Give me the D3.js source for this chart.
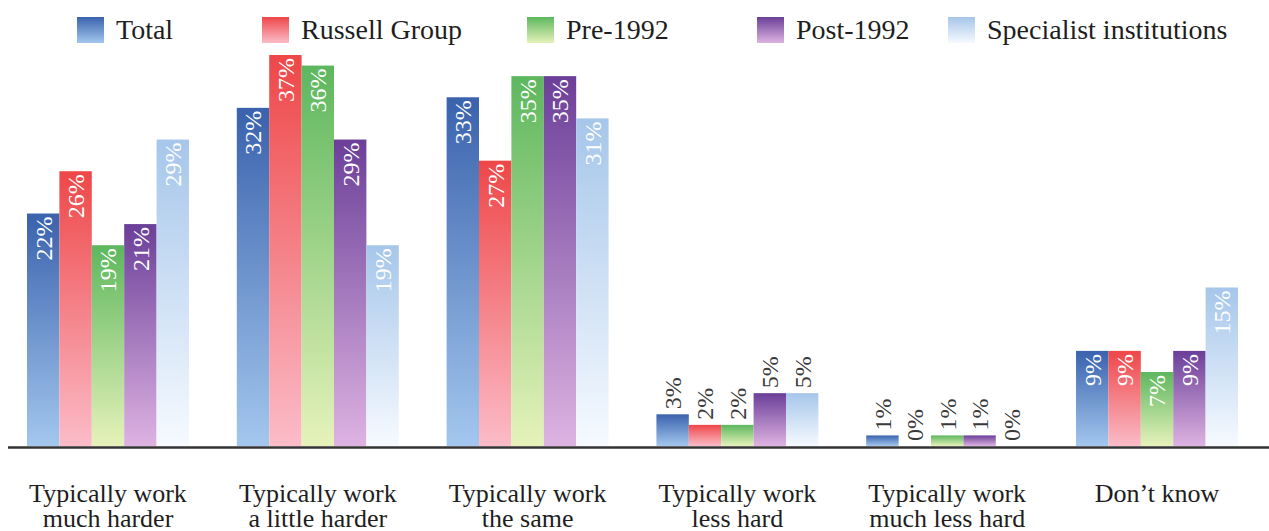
<!DOCTYPE html>
<html>
<head>
<meta charset="utf-8">
<script src="https://cdn.jsdelivr.net/npm/d3@7"></script>
<style>
  html, body { margin: 0; padding: 0; background: #fff; }
  svg { display: block; }
</style>
</head>
<body>
<svg id="chart" width="1269" height="531"></svg>
<script>
// Survey answers: how hard staff typically work, by institution type (% of respondents)
const categories = [
  ["Typically work", "much harder"],
  ["Typically work", "a little harder"],
  ["Typically work", "the same"],
  ["Typically work", "less hard"],
  ["Typically work", "much less hard"],
  ["Don\u2019t know"]
];
const seriesNames = ["Total", "Russell Group", "Pre-1992", "Post-1992", "Specialist institutions"];
const totalValues      = [22, 32, 33, 3, 1, 9];
const russellValues    = [26, 37, 27, 2, 0, 9];
const pre1992Values    = [19, 36, 35, 2, 1, 7];
const post1992Values   = [21, 29, 35, 5, 1, 9];
const specialistValues = [29, 19, 31, 5, 0, 15];

const seriesValues = [totalValues, russellValues, pre1992Values, post1992Values, specialistValues];
// gradient stops per series: [top, bottom]
const seriesColors = [
  ["#3a62ad", "#a3c7ee"],
  ["#ee4748", "#fbbcc8"],
  ["#5db75e", "#e6f2ba"],
  ["#6b3f98", "#ddb3e2"],
  ["#a6c6ea", "#f6faff"]
];

const svg = d3.select("#chart");
const serif = "'Liberation Serif', 'Times New Roman', serif";

const defs = svg.append("defs");
seriesColors.forEach((c, i) => {
  const g = defs.append("linearGradient")
    .attr("id", "grad" + i)
    .attr("x1", 0).attr("y1", 0).attr("x2", 0).attr("y2", 1);
  g.append("stop").attr("offset", "0%").attr("stop-color", c[0]);
  g.append("stop").attr("offset", "100%").attr("stop-color", c[1]);
});

const catKeys = categories.map(d => d.join(" "));
const x0 = d3.scaleBand().domain(catKeys).range([27, 1238]).paddingInner(0.228).paddingOuter(0);
const x1 = d3.scaleBand().domain(seriesNames).range([0, x0.bandwidth()]).padding(0);
const y = d3.scaleLinear().domain([0, 37]).range([446, 55]);

// bars
const groups = svg.append("g").selectAll("g")
  .data(catKeys)
  .join("g")
  .attr("transform", d => `translate(${x0(d)},0)`);

const cells = groups.selectAll("g.cell")
  .data((d, ci) => seriesNames.map((s, si) => ({ series: s, si, value: seriesValues[si][ci] })))
  .join("g").attr("class", "cell");

cells.filter(d => d.value > 0).append("rect")
  .attr("x", d => x1(d.series))
  .attr("y", d => y(d.value))
  .attr("width", x1.bandwidth())
  .attr("height", d => y(0) - y(d.value))
  .attr("fill", d => `url(#grad${d.si})`);

// value labels, rotated; inside the bar for tall bars, above it for short ones
cells.append("text")
  .attr("transform", d => {
    const cx = x1(d.series) + x1.bandwidth() / 2;
    const inside = d.value >= 7;
    const yy = inside ? y(d.value) + 3 : y(d.value) - 5;
    return `translate(${cx},${yy}) rotate(-90)`;
  })
  .attr("text-anchor", d => d.value >= 7 ? "end" : "start")
  .attr("dy", "0.35em")
  .attr("font-family", serif)
  .attr("font-size", 24)
  .attr("fill", d => d.value >= 7 ? "#ffffff" : "#3a3a3a")
  .text(d => d.value + "%");

// baseline
svg.append("line")
  .attr("x1", 8).attr("x2", 1269)
  .attr("y1", 447.5).attr("y2", 447.5)
  .attr("stroke", "#333").attr("stroke-width", 2.5);

// category labels
const xAxis = d3.axisBottom(x0).tickSize(0).tickFormat("");
const axisG = svg.append("g").attr("transform", "translate(0,446)").call(xAxis);
axisG.select(".domain").remove();
axisG.selectAll(".tick").each(function(d, i) {
  const t = d3.select(this).append("text")
    .attr("font-family", serif)
    .attr("font-size", 26)
    .attr("fill", "#1e1e1e")
    .attr("text-anchor", "middle");
  categories[i].forEach((line, li) => {
    t.append("tspan").attr("x", 0).attr("y", 56 + li * 25).text(line);
  });
});

// legend
const legendX = [77, 262, 527, 757, 948];
const legend = svg.append("g").selectAll("g")
  .data(seriesNames)
  .join("g")
  .attr("transform", (d, i) => `translate(${legendX[i]},17)`);
legend.append("rect")
  .attr("width", 27).attr("height", 26)
  .attr("fill", (d, i) => `url(#grad${i})`);
legend.append("text")
  .attr("x", 39).attr("y", 22)
  .attr("font-family", serif)
  .attr("font-size", 28)
  .attr("fill", "#1e1e1e")
  .text(d => d);
</script>
</body>
</html>
